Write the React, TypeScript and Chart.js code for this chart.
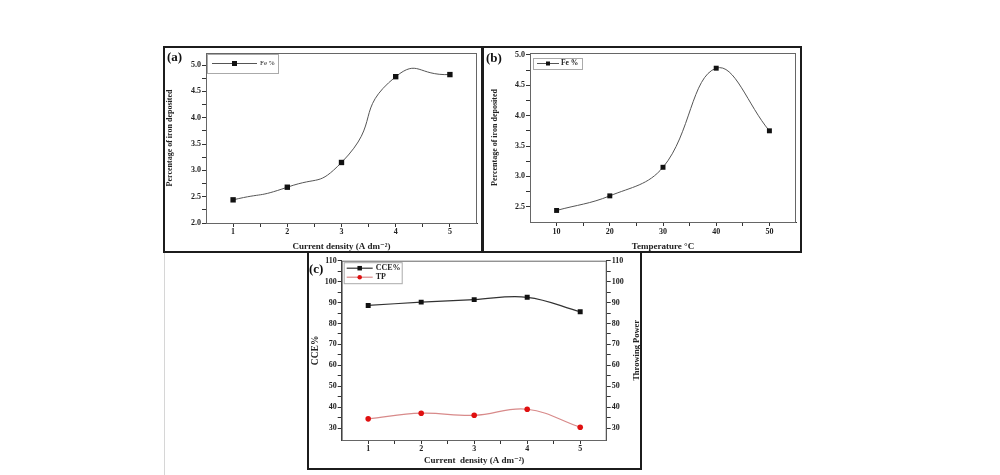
import { useEffect, useRef } from "react"
import { Chart, registerables } from "chart.js"

Chart.register(...registerables)

// (a) iron content vs current density
const densityA = [1, 2, 3, 4, 5]
const feByDensity = [2.44, 2.68, 3.15, 4.78, 4.82]
const xTicksA = [1, 2, 3, 4, 5]
const yTicksA = [2.0, 2.5, 3.0, 3.5, 4.0, 4.5, 5.0]

// (b) iron content vs temperature
const temperatures = [10, 20, 30, 40, 50]
const feByTemp = [2.44, 2.68, 3.15, 4.78, 3.75]
const xTicksB = [10, 20, 30, 40, 50]
const yTicksB = [2.5, 3.0, 3.5, 4.0, 4.5, 5.0]

// (c) cathode current efficiency and throwing power
const densityC = [1, 2, 3, 4, 5]
const cce = [88.6, 90.2, 91.4, 92.5, 85.6]
const throwingPower = [34.4, 37.1, 36.1, 39.0, 30.4]
const xTicksC = [1, 2, 3, 4, 5]
const yTicksC = [30, 40, 50, 60, 70, 80, 90, 100, 110]

const SERIF = "'Liberation Serif', 'DejaVu Serif', 'Times New Roman', serif"

const font = (size: number, weight: string = "bold") => ({ family: SERIF, size, weight, lineHeight: 1 })

// major ticks plus a minor one half way between each pair
function withMinor(major: number[]) {
  const out: number[] = []
  major.forEach((v, i) => {
    out.push(v)
    if (i < major.length - 1) out.push((v + major[i + 1]) / 2)
  })
  return out
}

const xyPoints = (xs: number[], ys: number[]) => xs.map((x, i) => ({ x, y: ys[i] }))

function axis(o: any) {
  return {
    type: "linear",
    position: o.position,
    min: o.min,
    max: o.max,
    offset: false,
    afterBuildTicks: (scale: any) => {
      scale.ticks = withMinor(o.major).map((value) => ({ value }))
    },
    afterFit: (scale: any) => {
      if (scale.isHorizontal()) scale.height = o.size
      else scale.width = o.size
    },
    ticks: {
      autoSkip: false,
      maxRotation: 0,
      padding: o.tickPad,
      color: "#222",
      font: font(o.fontSize),
      callback: (v: number) => (o.major.includes(v) ? v.toFixed(o.digits) : ""),
    },
    grid: { display: true, drawOnChartArea: false, drawTicks: true, tickLength: 4, color: "#333", lineWidth: 1 },
    border: { display: true, color: "#333", width: 1 },
    title: o.title
      ? { display: true, text: o.title, color: "#222", font: o.titleFont, padding: o.titlePad }
      : { display: false },
  }
}

// thin box round the plot area
const framePlugin = {
  id: "frame",
  beforeDatasetsDraw(chart: any) {
    const { ctx, chartArea } = chart
    ctx.save()
    ctx.strokeStyle = "#666"
    ctx.lineWidth = 1
    ctx.strokeRect(chartArea.left + 0.5, chartArea.top + 0.5, chartArea.right - chartArea.left - 1, chartArea.bottom - chartArea.top)
    ctx.restore()
  },
}

// origin-style legend: bordered box, line with marker, label
const boxLegendPlugin = {
  id: "boxLegend",
  afterDatasetsDraw(chart: any, _args: any, o: any) {
    const { ctx, chartArea } = chart
    const x0 = chartArea.left + o.x
    const y0 = chartArea.top + o.y
    const sets = chart.data.datasets
    ctx.save()
    ctx.fillStyle = "#fff"
    ctx.fillRect(x0, y0, o.w, o.h)
    ctx.strokeStyle = "#aaa"
    ctx.lineWidth = 1
    ctx.strokeRect(x0 + 0.5, y0 + 0.5, o.w, o.h)
    sets.forEach((ds: any, i: number) => {
      const cy = y0 + o.h / 2 + (i - (sets.length - 1) / 2) * (o.rowH || 0)
      const lx = x0 + o.padX
      ctx.strokeStyle = ds.borderColor
      ctx.lineWidth = ds.borderWidth
      ctx.beginPath()
      ctx.moveTo(lx, cy)
      ctx.lineTo(lx + o.lineLen, cy)
      ctx.stroke()
      const mx = lx + o.lineLen / 2
      const s = o.marker
      ctx.fillStyle = ds.pointBackgroundColor
      if (ds.pointStyle === "circle") {
        ctx.beginPath()
        ctx.arc(mx, cy, s / 2, 0, Math.PI * 2)
        ctx.fill()
      } else {
        ctx.fillRect(mx - s / 2, cy - s / 2, s, s)
      }
      ctx.fillStyle = "#222"
      ctx.font = `${o.weight} ${o.size}px ${SERIF}`
      ctx.textAlign = "left"
      ctx.textBaseline = "middle"
      ctx.fillText(ds.label, lx + o.lineLen + o.gap, cy)
    })
    ctx.restore()
  },
}

// right axis title reading bottom to top
const sideTitlePlugin = {
  id: "sideTitle",
  afterDraw(chart: any, _args: any, o: any) {
    if (!o || !o.text) return
    const { ctx, chartArea } = chart
    ctx.save()
    ctx.translate(o.x, (chartArea.top + chartArea.bottom) / 2)
    ctx.rotate(-Math.PI / 2)
    ctx.font = `${o.weight} ${o.size}px ${SERIF}`
    ctx.fillStyle = "#222"
    ctx.textAlign = "center"
    ctx.textBaseline = "middle"
    ctx.fillText(o.text, 0, 0)
    ctx.restore()
  },
}

function configA(): any {
  return {
    type: "line",
    data: {
      datasets: [
        {
          label: "Fe %",
          data: xyPoints(densityA, feByDensity),
          borderColor: "#555",
          borderWidth: 1,
          tension: 0.6,
          pointStyle: "rect",
          pointRadius: 3.8,
          pointBackgroundColor: "#111",
          pointBorderColor: "#111",
          pointBorderWidth: 0,
        },
      ],
    },
    options: {
      responsive: false,
      animation: false,
      layout: { padding: { top: 4, right: 3, left: 0, bottom: 0 } },
      scales: {
        x: axis({ position: "bottom", min: 0.5, max: 5.5, major: xTicksA, digits: 0, size: 28, fontSize: 8, tickPad: 1, title: "Current density (A dm⁻²)", titleFont: font(9), titlePad: { top: 0, bottom: 0 } }),
        y: axis({ position: "left", min: 2.0, max: 5.23, major: yTicksA, digits: 1, size: 41, fontSize: 8, tickPad: 1, title: "Percentage of iron deposited", titleFont: font(8), titlePad: { top: 1, bottom: 0 } }),
      },
      plugins: {
        legend: { display: false },
        tooltip: { enabled: false },
        boxLegend: { x: 1, y: 1, w: 71, h: 19, padX: 5, lineLen: 45, marker: 5, gap: 3, size: 7, weight: "normal" },
      },
    },
    plugins: [framePlugin, boxLegendPlugin],
  }
}

function configB(): any {
  return {
    type: "line",
    data: {
      datasets: [
        {
          label: "Fe %",
          data: xyPoints(temperatures, feByTemp),
          borderColor: "#555",
          borderWidth: 1,
          tension: 0.4,
          pointStyle: "rect",
          pointRadius: 3.5,
          pointBackgroundColor: "#111",
          pointBorderColor: "#111",
          pointBorderWidth: 0,
        },
      ],
    },
    options: {
      responsive: false,
      animation: false,
      layout: { padding: { top: 4, right: 4, left: 0, bottom: 0 } },
      scales: {
        x: axis({ position: "bottom", min: 5, max: 55, major: xTicksB, digits: 0, size: 29, fontSize: 8, tickPad: 2, title: "Temperature °C", titleFont: font(9), titlePad: { top: 0, bottom: 0 } }),
        y: axis({ position: "left", min: 2.25, max: 5.03, major: yTicksB, digits: 1, size: 46, fontSize: 8, tickPad: 1, title: "Percentage of iron deposited", titleFont: font(8), titlePad: { top: 7, bottom: 0 } }),
      },
      plugins: {
        legend: { display: false },
        tooltip: { enabled: false },
        boxLegend: { x: 3, y: 5, w: 49, h: 11, padX: 4, lineLen: 22, marker: 4, gap: 2, size: 7.5, weight: "bold" },
      },
    },
    plugins: [framePlugin, boxLegendPlugin],
  }
}

function configC(): any {
  return {
    type: "line",
    data: {
      datasets: [
        {
          label: "CCE%",
          data: xyPoints(densityC, cce),
          borderColor: "#333",
          borderWidth: 1.2,
          tension: 0.4,
          pointStyle: "rect",
          pointRadius: 3.5,
          pointBackgroundColor: "#111",
          pointBorderColor: "#111",
          pointBorderWidth: 0,
          yAxisID: "y",
        },
        {
          label: "TP",
          data: xyPoints(densityC, throwingPower),
          borderColor: "#d88a8a",
          borderWidth: 1.2,
          tension: 0.4,
          pointStyle: "circle",
          pointRadius: 2.8,
          pointBackgroundColor: "#e01010",
          pointBorderColor: "#e01010",
          pointBorderWidth: 0,
          yAxisID: "y1",
        },
      ],
    },
    options: {
      responsive: false,
      animation: false,
      layout: { padding: { top: 7.7, right: 0, left: 0, bottom: 0 } },
      scales: {
        x: axis({ position: "bottom", min: 0.5, max: 5.5, major: xTicksC, digits: 0, size: 28, fontSize: 8, tickPad: 1, title: "Current  density (A dm⁻²)", titleFont: font(9), titlePad: { top: 0, bottom: 3 } }),
        y: axis({ position: "left", min: 24.3, max: 110, major: yTicksC, digits: 0, size: 32.7, fontSize: 8, tickPad: 1, title: "CCE%", titleFont: font(9.5), titlePad: { top: 1.5, bottom: 0 } }),
        y1: axis({ position: "right", min: 24.3, max: 110, major: yTicksC, digits: 0, size: 33.3, fontSize: 8, tickPad: 1 }),
      },
      plugins: {
        legend: { display: false },
        tooltip: { enabled: false },
        boxLegend: { x: 2, y: 1.5, w: 58, h: 21, padX: 3, lineLen: 26, rowH: 9, marker: 4.5, gap: 3, size: 8, weight: "bold" },
        sideTitle: { text: "Throwing Power", x: 327.7, size: 8.5, weight: "bold" },
      },
    },
    plugins: [framePlugin, boxLegendPlugin, sideTitlePlugin],
  }
}

interface PanelProps {
  left: number
  top: number
  width: number
  height: number
  tag: string
  tagLeft: number
  tagTop: number
  makeConfig: () => any
}

function Panel({ left, top, width, height, tag, tagLeft, tagTop, makeConfig }: PanelProps) {
  const canvasRef = useRef<HTMLCanvasElement>(null)

  useEffect(() => {
    if (!canvasRef.current) return
    const chart = new Chart(canvasRef.current, makeConfig())
    return () => chart.destroy()
  }, [makeConfig])

  return (
    <>
      <div
        style={{
          position: "absolute",
          left,
          top,
          width,
          height,
          boxSizing: "border-box",
          border: "2px solid #1c1c1c",
          background: "#fff",
        }}
      >
        <canvas ref={canvasRef} width={width - 4} height={height - 4} style={{ display: "block" }} />
      </div>
      <div
        style={{
          position: "absolute",
          left: tagLeft,
          top: tagTop,
          fontFamily: SERIF,
          fontWeight: "bold",
          fontSize: 13,
          lineHeight: "13px",
          color: "#111",
        }}
      >
        {tag}
      </div>
    </>
  )
}

export default function App() {
  return (
    <div style={{ position: "absolute", left: 0, top: 0, width: 1000, height: 475, background: "#fff", overflow: "hidden" }}>
      <div style={{ position: "absolute", left: 164, top: 253, width: 1, height: 222, background: "#d6d6d6" }} />
      <Panel left={163} top={46} width={320} height={207} tag="(a)" tagLeft={167} tagTop={50} makeConfig={configA} />
      <Panel left={482} top={46} width={320} height={207} tag="(b)" tagLeft={486} tagTop={51} makeConfig={configB} />
      <Panel left={307} top={251} width={335} height={219} tag="(c)" tagLeft={309} tagTop={262} makeConfig={configC} />
    </div>
  )
}
